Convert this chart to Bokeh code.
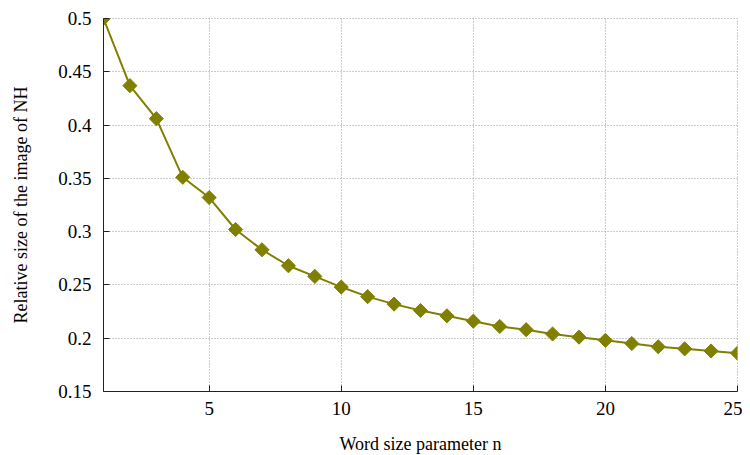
import numpy as np
from bokeh.plotting import figure
from bokeh.models import Range1d, FixedTicker
from bokeh.embed import file_html
from bokeh.resources import INLINE

n_values = list(range(1, 26))
rel_size = [0.500, 0.437, 0.406, 0.351, 0.332, 0.302, 0.283, 0.268, 0.258, 0.248,
            0.239, 0.232, 0.226, 0.221, 0.216, 0.211, 0.208, 0.204, 0.201, 0.198,
            0.195, 0.192, 0.190, 0.188, 0.186]
x_ticks = [5, 10, 15, 20, 25]
y_ticks = [0.15, 0.2, 0.25, 0.3, 0.35, 0.4, 0.45, 0.5]

FONT = "Liberation Serif"
OLIVE = "#808000"

p = figure(frame_width=634, frame_height=373, output_backend="svg", toolbar_location=None,
           x_range=Range1d(1, 25), y_range=Range1d(0.15, 0.5),
           min_border_left=103, min_border_right=5, min_border_top=18, min_border_bottom=50)
p.outline_line_color = "#999999"
p.outline_line_dash = "1 2"
p.outline_line_width = 1

p.line(n_values, rel_size, line_color=OLIVE, line_width=2)
p.scatter(n_values, rel_size, marker="square", angle=np.pi / 4, size=10,
          fill_color=OLIVE, line_color=OLIVE)

for ax in (p.xaxis[0], p.yaxis[0]):
    ax.major_tick_in = 6
    ax.major_tick_out = 0
    ax.minor_tick_line_color = None
    ax.axis_line_color = "#222222"
    ax.major_tick_line_color = "#222222"
    ax.major_label_text_font = FONT
    ax.major_label_text_font_size = "19px"
    ax.major_label_text_color = "black"
    ax.axis_label_text_font = FONT
    ax.axis_label_text_font_size = "18px"
    ax.axis_label_text_font_style = "normal"
    ax.axis_label_text_color = "black"

p.xaxis.ticker = FixedTicker(ticks=x_ticks)
p.yaxis.ticker = FixedTicker(ticks=y_ticks)
p.xaxis.axis_label = "Word size parameter n"
p.yaxis.axis_label = "Relative size of the image of NH"
p.xaxis.major_label_standoff = 10
p.yaxis.major_label_standoff = 12
p.xaxis.axis_label_standoff = 16
p.yaxis.axis_label_standoff = 24

for g in (p.xgrid[0], p.ygrid[0]):
    g.grid_line_color = "#999999"
    g.grid_line_dash = "1 2"
    g.grid_line_width = 1

open("out.html", "w").write(file_html(p, INLINE))
